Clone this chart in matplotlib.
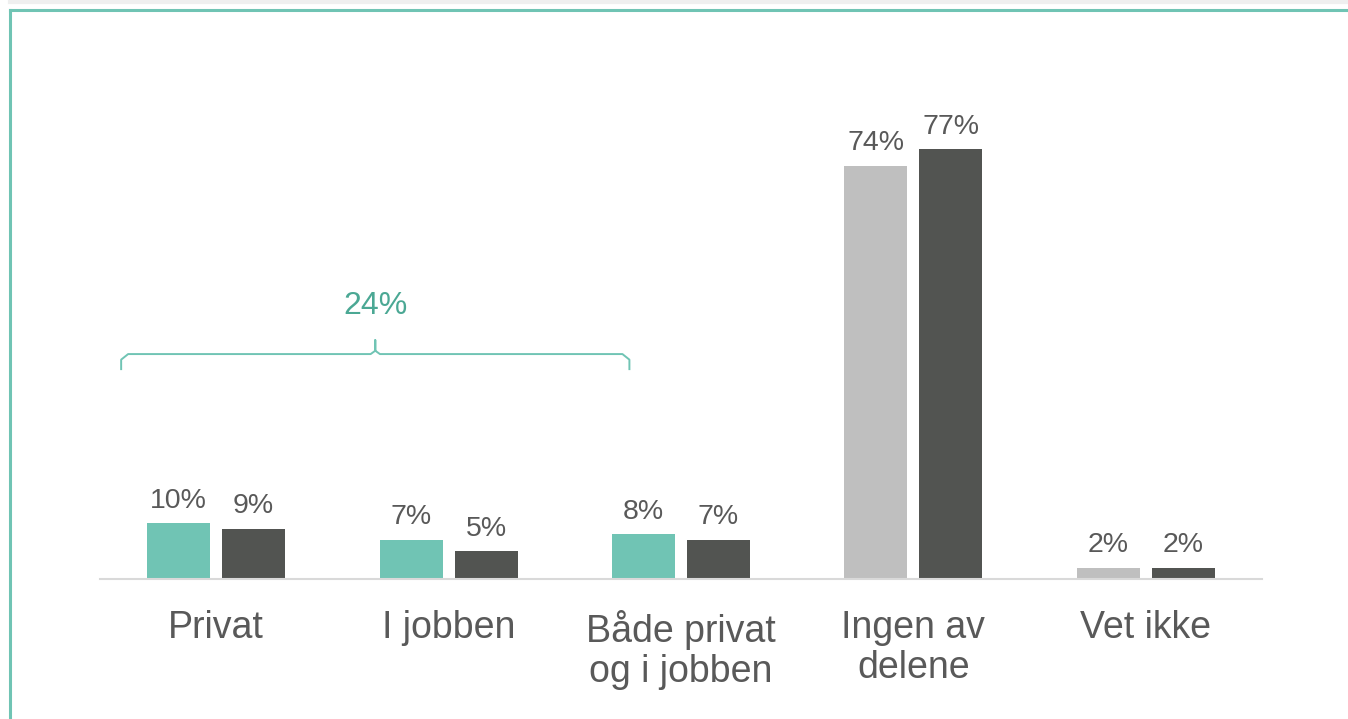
import numpy as np
import matplotlib.pyplot as plt
from matplotlib.lines import Line2D

plt.rcParams['font.family'] = ['Liberation Sans', 'DejaVu Sans']

# Data
kategorier = ["Privat", "I jobben", "Både privat\nog i jobben", "Ingen av\ndelene", "Vet ikke"]
serie_a = [10, 7, 8, 74, 2]
serie_b = [9, 5, 7, 77, 2]
farger_a = ['#70C4B4', '#70C4B4', '#70C4B4', '#BFBFBF', '#BFBFBF']
farge_b = '#525451'
sum_label = "24%"

TEKST = '#595959'
TEAL = '#70C4B4'

fig = plt.figure(figsize=(13.48, 7.19), dpi=100)
ax = fig.add_axes([100 / 1348, 1 - 579 / 719, 1162 / 1348, 480 / 719])

x = np.arange(len(kategorier))
bredde = 0.271
off = 0.161
ax.bar(x - off, serie_a, bredde, color=farger_a)
ax.bar(x + off, serie_b, bredde, color=farge_b)

for xi, va, vb in zip(x, serie_a, serie_b):
    ax.text(xi - off, va + 1.7, f"{va}%", ha='center', va='bottom', fontsize=20.5, color=TEKST)
    ax.text(xi + off, vb + 1.7, f"{vb}%", ha='center', va='bottom', fontsize=20.5, color=TEKST)

ax.set_xlim(-0.5, 4.5)
ax.set_ylim(0, 86)
ax.set_xticks(x)
ax.set_xticklabels(kategorier, fontsize=27, color=TEKST, linespacing=1.17, va='top')
ax.tick_params(axis='x', length=0, pad=22)
ax.set_yticks([])
for s in ['top', 'right', 'left']:
    ax.spines[s].set_visible(False)
ax.spines['bottom'].set_color('#D9D9D9')
ax.spines['bottom'].set_linewidth(1.5)

# Brace over the first three groups
bx0, bx1 = -0.409, 1.778
bmid = (bx0 + bx1) / 2
by, bh, bp = 40.3, 37.6, 42.8
ax.plot([bx0, bx0, bx0 + 0.03, bmid - 0.02, bmid, bmid, bmid, bmid + 0.02, bx1 - 0.03, bx1, bx1],
        [bh, by - 1.0, by, by, by + 0.6, bp, by + 0.6, by, by, by - 1.0, bh],
        color=TEAL, lw=1.4, solid_joinstyle='round', clip_on=False)
ax.text(bmid, 46.3, sum_label, ha='center', va='bottom', fontsize=23, color='#4BA894')

# Frame
fig.add_artist(Line2D([10 / 1348, 1], [1 - 10 / 719, 1 - 10 / 719], color=TEAL, lw=2.2,
                      transform=fig.transFigure))
fig.add_artist(Line2D([10 / 1348, 10 / 1348], [0, 1 - 10 / 719], color=TEAL, lw=2.2,
                      transform=fig.transFigure))
fig.add_artist(Line2D([10 / 1348, 1], [1 - 1.5 / 719, 1 - 1.5 / 719], color='#EFEFEF', lw=3,
                      transform=fig.transFigure))

fig.savefig("out.png", dpi=100)
